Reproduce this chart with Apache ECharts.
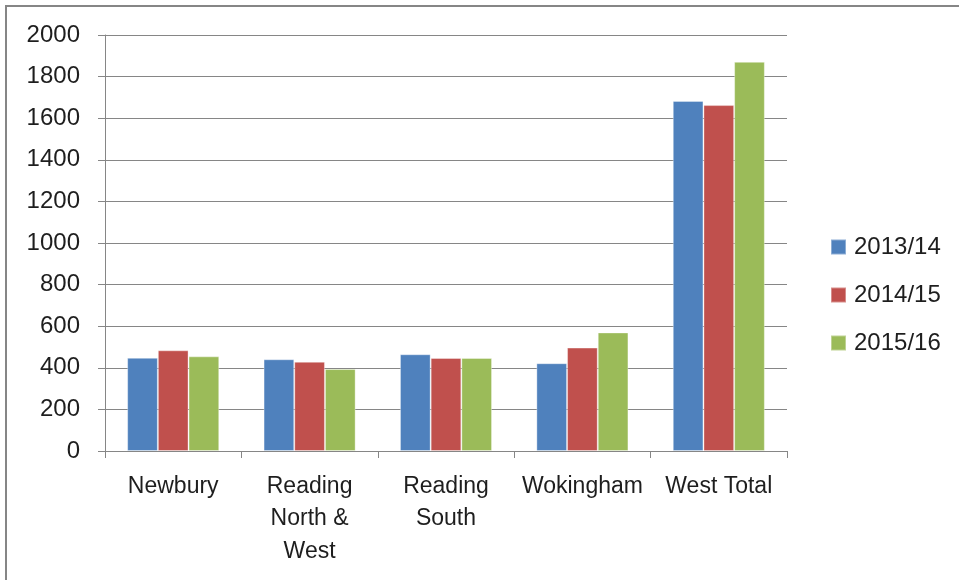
<!DOCTYPE html>
<html><head><meta charset="utf-8">
<script src="https://cdn.jsdelivr.net/npm/echarts@6/dist/echarts.min.js"></script>
<style>html,body{margin:0;padding:0;background:#fff}#c{width:959px;height:580px}</style>
</head><body><div id="c"></div>
<script>
const categories = ["Newbury", "Reading\nNorth &\nWest", "Reading\nSouth", "Wokingham", "West Total"];
const seriesNames = ["2013/14", "2014/15", "2015/16"];
const values2013 = [448, 441, 465, 422, 1683];
const values2014 = [484, 429, 447, 497, 1663];
const values2015 = [455, 394, 447, 570, 1871];
const yTicks = { min: 0, max: 2000, interval: 200 };
const colors = ["#4F81BD", "#C0504D", "#9BBB59"];
const font = "'Liberation Sans', 'Noto Sans', sans-serif";
const textColor = '#1e1e1e';

const chart = echarts.init(document.getElementById('c'), null, { renderer: 'canvas' });
const data = [values2013, values2014, values2015];
chart.setOption({
  animation: false,
  color: colors,
  textStyle: { fontFamily: font },
  graphic: [{
    type: 'polyline', shape: { points: [[6, 580], [6, 6], [959, 6]] },
    style: { stroke: '#868686', lineWidth: 2, fill: null }
  }],
  grid: { left: 105, right: 172, top: 35, bottom: 129 },
  legend: {
    orient: 'vertical', left: 825, top: 230, itemWidth: 15, itemHeight: 15, itemGap: 24,
    icon: 'rect',
    textStyle: { fontSize: 24, color: textColor, fontFamily: font, padding: [0, 0, 0, 3] },
    data: seriesNames
  },
  xAxis: {
    type: 'category', data: categories,
    axisLine: { lineStyle: { color: '#868686', width: 1 } },
    axisTick: { show: true, length: 7, lineStyle: { color: '#868686' } },
    axisLabel: { color: textColor, fontSize: 23, margin: 19, lineHeight: 32.5, fontFamily: font, interval: 0 }
  },
  yAxis: {
    type: 'value', min: yTicks.min, max: yTicks.max, interval: yTicks.interval,
    axisLine: { show: true, lineStyle: { color: '#868686' } },
    axisTick: { show: true, length: 7, lineStyle: { color: '#868686' } },
    splitLine: { lineStyle: { color: '#868686', width: 1 } },
    axisLabel: { color: textColor, fontSize: 24, margin: 25, fontFamily: font, formatter: v => String(v) }
  },
  series: seriesNames.map((n, i) => ({
    name: n, type: 'bar', data: data[i],
    barGap: '0%', barCategoryGap: '32.5%',
    itemStyle: { color: colors[i], borderColor: 'rgba(255,255,255,0.35)', borderWidth: 1 }
  }))
});
</script></body></html>
